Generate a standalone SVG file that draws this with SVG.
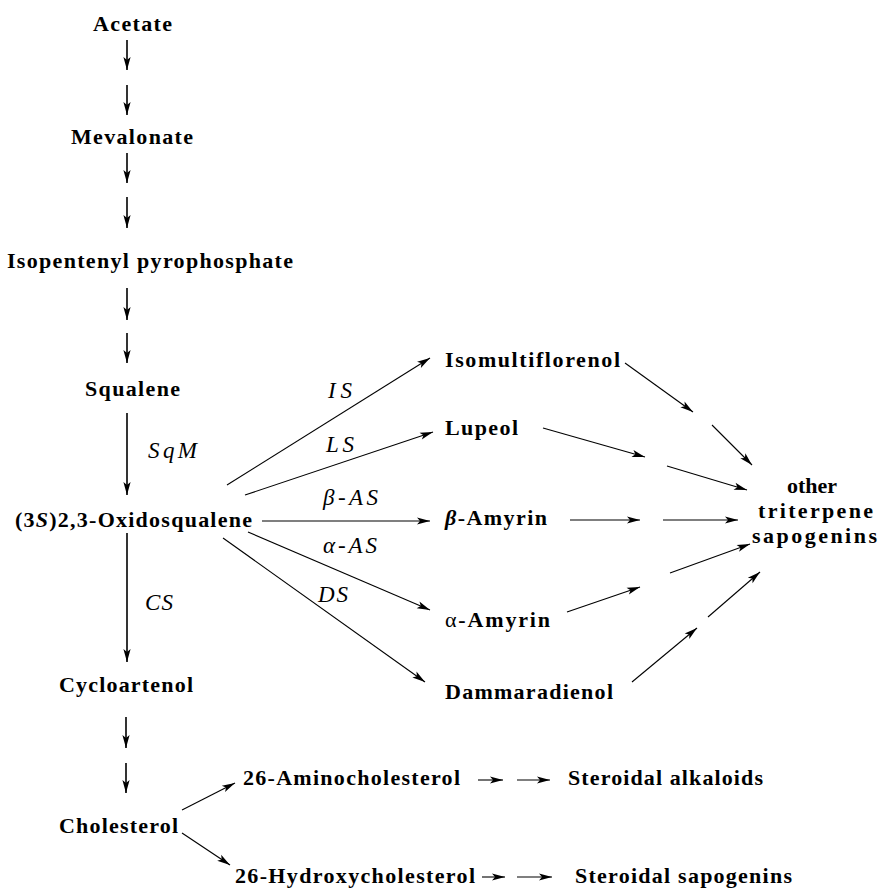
<svg xmlns="http://www.w3.org/2000/svg" width="878" height="889" viewBox="0 0 878 889">
<defs>
<marker id="ah" markerUnits="userSpaceOnUse" markerWidth="14" markerHeight="8" refX="13" refY="4" orient="auto" overflow="visible">
<path d="M0,0.4 L13,4 L0,7.6 L3,4 z" fill="#000"/>
</marker>
<style>
.n{font-family:"Liberation Serif","Times New Roman",serif;font-size:22px;font-weight:bold;fill:#000}
.l{font-family:"Liberation Serif","Times New Roman",serif;font-size:23px;font-style:italic;fill:#000}
.v{stroke:#000;stroke-width:1.6;fill:none;marker-end:url(#ah)}
.d{stroke:#000;stroke-width:1.1;fill:none;marker-end:url(#ah)}
.i{font-style:italic}
.r{font-weight:normal}
</style>
</defs>
<rect width="878" height="889" fill="#fff"/>
<g id="acetate"><text class="n" x="93" y="31" textLength="79" lengthAdjust="spacing">Acetate</text></g>
<g id="mevalonate"><text class="n" x="71" y="144" textLength="122" lengthAdjust="spacing">Mevalonate</text></g>
<g id="ipp"><text class="n" x="7" y="268" textLength="286" lengthAdjust="spacing">Isopentenyl pyrophosphate</text></g>
<g id="squalene"><text class="n" x="85" y="396" textLength="95" lengthAdjust="spacing">Squalene</text></g>
<g id="oxidosqualene"><text class="n" x="15" y="527" textLength="237" lengthAdjust="spacing">(3<tspan class="i">S</tspan>)2,3-Oxidosqualene</text></g>
<g id="cycloartenol"><text class="n" x="59" y="692" textLength="134" lengthAdjust="spacing">Cycloartenol</text></g>
<g id="cholesterol"><text class="n" x="59" y="833" textLength="119" lengthAdjust="spacing">Cholesterol</text></g>
<g id="aminocholesterol"><text class="n" x="243" y="785" textLength="217" lengthAdjust="spacing">26-Aminocholesterol</text></g>
<g id="hydroxycholesterol"><text class="n" x="235" y="883" textLength="240" lengthAdjust="spacing">26-Hydroxycholesterol</text></g>
<g id="alkaloids"><text class="n" x="568" y="785" textLength="195" lengthAdjust="spacing">Steroidal alkaloids</text></g>
<g id="steroidal-sapogenins"><text class="n" x="575" y="883" textLength="217" lengthAdjust="spacing">Steroidal sapogenins</text></g>
<g id="isomultiflorenol"><text class="n" x="445" y="367" textLength="175" lengthAdjust="spacing">Isomultiflorenol</text></g>
<g id="lupeol"><text class="n" x="445" y="435" textLength="73" lengthAdjust="spacing">Lupeol</text></g>
<g id="b-amyrin"><text class="n" x="445" y="525" textLength="102" lengthAdjust="spacing"><tspan class="i">β</tspan>-Amyrin</text></g>
<g id="a-amyrin"><text class="n" x="445" y="627" textLength="105" lengthAdjust="spacing"><tspan class="r">α</tspan>-Amyrin</text></g>
<g id="dammaradienol"><text class="n" x="445" y="699" textLength="168" lengthAdjust="spacing">Dammaradienol</text></g>
<g id="triterpene-sapogenins">
<text class="n" x="787" y="493" textLength="50" lengthAdjust="spacing">other</text>
<text class="n" x="758" y="518" textLength="115" lengthAdjust="spacing">triterpene</text>
<text class="n" x="752" y="543" textLength="125" lengthAdjust="spacing">sapogenins</text>
</g>
<g id="connectors">
<line class="v" x1="127" y1="40" x2="127" y2="70"/>
<line class="v" x1="127" y1="85" x2="127" y2="115"/>
<line class="v" x1="127" y1="153" x2="127" y2="183"/>
<line class="v" x1="127" y1="197" x2="127" y2="228"/>
<line class="v" x1="127" y1="288" x2="127" y2="320"/>
<line class="v" x1="127" y1="333" x2="127" y2="363"/>
<line class="v" x1="127" y1="413" x2="127" y2="495"/>
<line class="v" x1="127" y1="533" x2="127" y2="662"/>
<line class="v" x1="126" y1="717" x2="126" y2="748"/>
<line class="v" x1="126" y1="763" x2="126" y2="793"/>
<line class="d" x1="227" y1="485" x2="430" y2="358"/>
<line class="d" x1="245" y1="495" x2="433" y2="432"/>
<line class="d" x1="262" y1="521" x2="430" y2="521"/>
<line class="d" x1="248" y1="532" x2="430" y2="610"/>
<line class="d" x1="223" y1="538" x2="425" y2="682"/>
<line class="d" x1="182" y1="810" x2="235" y2="783"/>
<line class="d" x1="182" y1="833" x2="230" y2="865"/>
<line class="d" x1="478" y1="780" x2="503" y2="780"/>
<line class="d" x1="517" y1="780" x2="550" y2="780"/>
<line class="d" x1="482" y1="877" x2="505" y2="877"/>
<line class="d" x1="517" y1="877" x2="552" y2="877"/>
<line class="d" x1="625" y1="363" x2="693" y2="412"/>
<line class="d" x1="712" y1="425" x2="752" y2="465"/>
<line class="d" x1="543" y1="428" x2="645" y2="457"/>
<line class="d" x1="667" y1="466" x2="747" y2="490"/>
<line class="d" x1="570" y1="520" x2="640" y2="520"/>
<line class="d" x1="663" y1="520" x2="738" y2="520"/>
<line class="d" x1="567" y1="612" x2="640" y2="587"/>
<line class="d" x1="670" y1="573" x2="750" y2="544"/>
<line class="d" x1="632" y1="682" x2="697" y2="628"/>
<line class="d" x1="708" y1="617" x2="760" y2="572"/>
<text class="l" x="148" y="458" textLength="49" lengthAdjust="spacing">SqM</text>
<text class="l" x="145" y="610" textLength="28" lengthAdjust="spacing">CS</text>
<text class="l" x="328" y="398" textLength="24" lengthAdjust="spacing">IS</text>
<text class="l" x="326" y="452" textLength="28" lengthAdjust="spacing">LS</text>
<text class="l" x="323" y="505" textLength="55" lengthAdjust="spacing">β-AS</text>
<text class="l" x="323" y="553" textLength="54" lengthAdjust="spacing">α-AS</text>
<text class="l" x="318" y="602" textLength="30" lengthAdjust="spacing">DS</text>
</g>
</svg>
